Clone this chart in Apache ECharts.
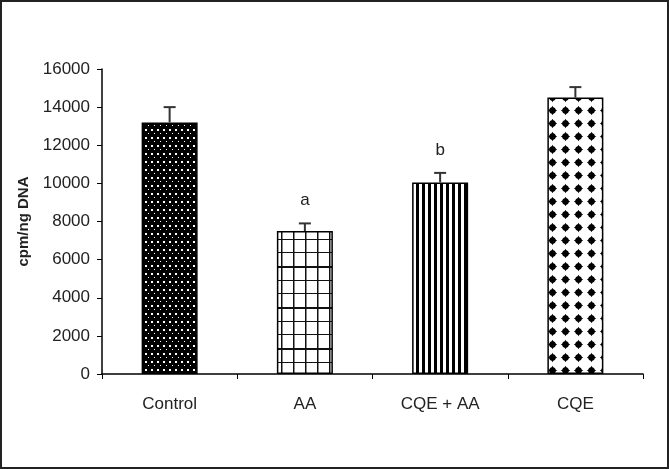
<!DOCTYPE html>
<html>
<head>
<meta charset="utf-8">
<script src="https://cdn.jsdelivr.net/npm/echarts@6/dist/echarts.min.js"></script>
<style>
  html, body { margin: 0; padding: 0; background: #fff; }
  #chart { width: 669px; height: 469px; }
</style>
</head>
<body>
<div id="chart"></div>
<script>
  // data
  var groups = ['Control', 'AA', 'CQE + AA', 'CQE'];
  var means = [13200, 7500, 10050, 14500];
  var errors = [800, 400, 500, 550];
  var letters = ['', 'a', 'b', ''];
  var yTicks = { min: 0, max: 16000, step: 2000 };

  // fill patterns for the bars
  function tile(w, h, draw) {
    var c = document.createElement('canvas');
    c.width = w; c.height = h;
    draw(c.getContext('2d'));
    return c;
  }
  var dotted = tile(6, 8, function (g) {
    g.fillStyle = '#000'; g.fillRect(0, 0, 6, 8);
    g.fillStyle = '#fff';
    g.fillRect(1, 1, 2, 2);
    g.fillRect(4, 5, 1, 1);
  });
  var gridded = tile(12, 41, function (g) {
    g.fillStyle = '#fff'; g.fillRect(0, 0, 12, 41);
    g.fillStyle = '#111';
    g.fillRect(5, 0, 1.5, 41);
    g.fillRect(0, 6, 12, 1);
    g.fillRect(0, 20, 12, 2);
    g.fillRect(0, 34, 12, 1);
  });
  var striped = tile(6, 4, function (g) {
    g.fillStyle = '#fff'; g.fillRect(0, 0, 6, 4);
    g.fillStyle = '#000'; g.fillRect(2, 0, 3, 4);
  });
  var studded = tile(13, 13, function (g) {
    g.fillStyle = '#fff'; g.fillRect(0, 0, 13, 13);
    g.fillStyle = '#000';
    g.beginPath(); g.arc(6.5, 6.5, 3.2, 0, Math.PI * 2); g.fill();
    g.beginPath();
    g.moveTo(6.5, 1.8); g.lineTo(9, 6.5); g.lineTo(6.5, 11.2); g.lineTo(4, 6.5);
    g.closePath(); g.fill();
    g.beginPath();
    g.moveTo(1.8, 6.5); g.lineTo(6.5, 4); g.lineTo(11.2, 6.5); g.lineTo(6.5, 9);
    g.closePath(); g.fill();
  });
  var fills = [dotted, gridded, striped, studded];

  var chart = echarts.init(document.getElementById('chart'), null, { renderer: 'canvas' });

  chart.setOption({
    animation: false,
    backgroundColor: '#fff',
    textStyle: { fontFamily: 'Liberation Sans, Arial, sans-serif' },
    graphic: [{
      type: 'rect',
      shape: { x: 1, y: 1, width: 667, height: 467 },
      style: { fill: 'none', stroke: '#222', lineWidth: 2 },
      silent: true
    }],
    grid: { left: 102, right: 26, top: 69, bottom: 95 },
    xAxis: {
      type: 'category',
      data: groups,
      axisLine: { lineStyle: { color: '#000', width: 1.5 } },
      axisTick: { show: true, length: 5, lineStyle: { color: '#000' } },
      axisLabel: { color: '#222', fontSize: 17, margin: 22 }
    },
    yAxis: {
      type: 'value',
      min: yTicks.min,
      max: yTicks.max,
      interval: yTicks.step,
      name: 'cpm/ng DNA',
      nameLocation: 'middle',
      nameRotate: 90,
      nameGap: 60,
      nameTextStyle: { color: '#222', fontSize: 15, fontWeight: 'bold' },
      axisLine: { show: true, lineStyle: { color: '#000', width: 1.5 } },
      axisTick: { show: true, length: 5, lineStyle: { color: '#000' } },
      axisLabel: {
        color: '#222', fontSize: 17, margin: 12,
        formatter: function (v) { return String(v); }
      },
      splitLine: { show: false }
    },
    series: [
      {
        type: 'bar',
        barWidth: 56,
        data: means.map(function (v, i) {
          return {
            value: v,
            itemStyle: {
              color: { image: fills[i], repeat: 'repeat' },
              borderColor: '#000',
              borderWidth: 1.5
            }
          };
        })
      },
      {
        type: 'custom',
        z: 5,
        data: means.map(function (v, i) { return [i, v, v + errors[i]]; }),
        renderItem: function (params, api) {
          var base = api.coord([api.value(0), api.value(1)]);
          var top = api.coord([api.value(0), api.value(2)]);
          var line = { stroke: '#333', lineWidth: 2 };
          var kids = [
            { type: 'line', shape: { x1: base[0], y1: base[1], x2: top[0], y2: top[1] }, style: line },
            { type: 'line', shape: { x1: top[0] - 6, y1: top[1], x2: top[0] + 6, y2: top[1] }, style: line }
          ];
          var letter = letters[params.dataIndex];
          if (letter) {
            kids.push({
              type: 'text',
              x: top[0], y: top[1] - 23,
              style: {
                text: letter, fill: '#222', fontSize: 17,
                fontFamily: 'Liberation Sans, Arial, sans-serif',
                align: 'center', verticalAlign: 'middle'
              }
            });
          }
          return { type: 'group', children: kids };
        }
      }
    ]
  });
</script>
</body>
</html>
